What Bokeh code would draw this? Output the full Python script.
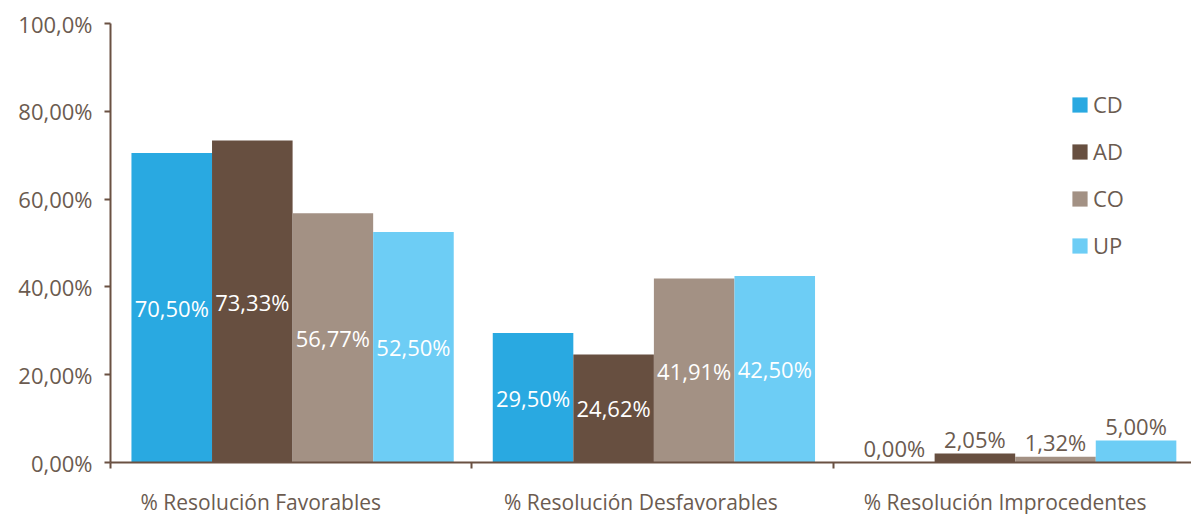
import numpy as np
from bokeh.plotting import figure
from bokeh.models import (Range1d, FixedTicker, Legend, LegendItem,
                          ColumnDataSource, LabelSet)
from bokeh.core.properties import value
from bokeh.embed import file_html
from bokeh.resources import INLINE

categories = ["% Resolución Favorables", "% Resolución Desfavorables",
              "% Resolución Improcedentes"]
series = ["CD", "AD", "CO", "UP"]
cd = [70.50, 29.50, 0.00]
ad = [73.33, 24.62, 2.05]
co = [56.77, 41.91, 1.32]
up = [52.50, 42.50, 5.00]
values = [cd, ad, co, up]
colors = ["#29a9e1", "#674f40", "#a39184", "#6dcdf5"]
y_ticks = [0, 20, 40, 60, 80, 100]
y_tick_labels = ["0,00%", "20,00%", "40,00%", "60,00%", "80,00%", "100,0%"]

TXT = "#6b5b50"
AXC = "#6a5142"
FONT = "Open Sans"

GROUP_PX = 361.3
FRAME_W = 1081
p = figure(frame_width=FRAME_W, frame_height=439,
           x_range=Range1d(0, FRAME_W / GROUP_PX), y_range=Range1d(0, 100),
           output_backend="svg", toolbar_location=None,
           min_border_left=110, min_border_right=0, min_border_top=23,
           min_border_bottom=0)
p.outline_line_color = None
p.xgrid.visible = False
p.ygrid.visible = False
p.background_fill_color = "white"

bw = 0.223
group_idx = np.arange(len(categories))
renderers = []
for j, (name, vals, col) in enumerate(zip(series, values, colors)):
    xs = group_idx + 0.504 + (j - 1.5) * bw
    txt = [f"{v:.2f}%".replace(".", ",") for v in vals]
    src = ColumnDataSource(dict(x=xs, top=vals))
    r = p.vbar(x="x", top="top", width=bw, source=src, fill_color=col,
               line_color=None)
    renderers.append(r)
    inside = ColumnDataSource(dict(x=xs[:2], y=[v / 2 for v in vals[:2]],
                                   label=txt[:2]))
    p.add_layout(LabelSet(x="x", y="y", text="label", source=inside,
                          text_align="center", text_baseline="middle",
                          text_color="white", text_font=value(FONT),
                          text_font_size="22px"))
    outside = ColumnDataSource(dict(x=xs[2:], y=vals[2:], label=txt[2:]))
    p.add_layout(LabelSet(x="x", y="y", text="label", source=outside,
                          text_align="center", text_baseline="alphabetic",
                          y_offset=6, text_color=TXT, text_font=value(FONT),
                          text_font_size="22px"))

# axes
label_centers = [0.416, 0.468, 0.476]
xa = p.xaxis[0]
tick_pos = [float(i + c) for i, c in zip(group_idx, label_centers)]
xa.ticker = FixedTicker(ticks=tick_pos,
                        minor_ticks=list(range(len(categories) + 1)))
xa.major_label_overrides = {t: c for t, c in zip(tick_pos, categories)}
xa.major_tick_out = 0
xa.major_tick_in = 0
xa.minor_tick_out = 6
xa.minor_tick_in = 0
xa.minor_tick_line_color = AXC
xa.minor_tick_line_width = 2
xa.axis_line_color = AXC
xa.axis_line_width = 2
xa.major_label_standoff = 19
xa.major_label_text_font = FONT
xa.major_label_text_font_size = "21px"
xa.major_label_text_color = TXT

ya = p.yaxis[0]
ya.ticker = FixedTicker(ticks=y_ticks)
ya.major_label_overrides = {t: l for t, l in zip(y_ticks, y_tick_labels)}
ya.minor_tick_line_color = None
ya.major_tick_out = 6
ya.major_tick_in = 0
ya.major_tick_line_color = AXC
ya.major_tick_line_width = 2
ya.axis_line_color = AXC
ya.axis_line_width = 2
ya.major_label_standoff = 12
ya.major_label_text_font = FONT
ya.major_label_text_font_size = "22px"
ya.major_label_text_color = TXT

legend = Legend(items=[LegendItem(label=s, renderers=[r])
                       for s, r in zip(series, renderers)],
                location=(960, 202), orientation="vertical",
                glyph_width=19, glyph_height=19, label_standoff=4,
                spacing=17, padding=0, margin=0,
                label_text_font=FONT, label_text_font_size="22px",
                label_text_color=TXT, border_line_color=None,
                background_fill_alpha=0)
p.add_layout(legend)

open("out.html", "w").write(file_html(p, INLINE))
